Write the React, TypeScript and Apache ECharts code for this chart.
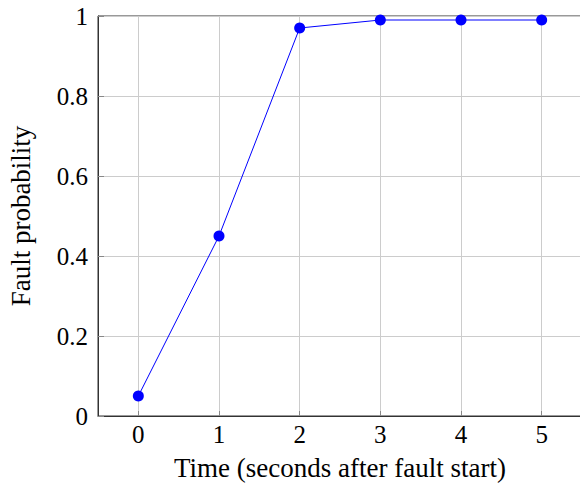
import React, { useEffect, useRef } from "react";
import * as echarts from "echarts";

const times = [0, 1, 2, 3, 4, 5];
const faultProb = [0.05, 0.45, 0.97, 0.99, 0.99, 0.99];
const xTicks = [0, 1, 2, 3, 4, 5];
const yTicks = [0, 0.2, 0.4, 0.6, 0.8, 1];
const xLabel = "Time (seconds after fault start)";
const yLabel = "Fault probability";

export default function App() {
  const ref = useRef<HTMLDivElement>(null);
  useEffect(() => {
    if (!ref.current) return;
    const chart = echarts.init(ref.current, null, { renderer: "svg" });
    const font = "'Liberation Serif', 'Times New Roman', serif";
    chart.setOption({
      animation: false,
      backgroundColor: "#ffffff",
      grid: {
        left: 98,
        right: -2,
        top: 16,
        bottom: 67,
        containLabel: false,
        outerBoundsMode: "none",
        show: true,
        borderColor: "#333333",
        borderWidth: 1,
      },
      xAxis: {
        type: "value",
        min: -0.5,
        max: 5.5,
        name: xLabel,
        nameLocation: "middle",
        nameGap: 38,
        nameTextStyle: { fontFamily: font, fontSize: 27, color: "#000" },
        axisLine: { show: true, onZero: false, lineStyle: { color: "#333333", width: 1 } },
        axisTick: { show: true, inside: true, length: 5, customValues: xTicks, lineStyle: { color: "#888" } },
        splitLine: { show: true, lineStyle: { color: "#cccccc", width: 1 } },
        axisLabel: {
          fontFamily: font,
          fontSize: 25,
          color: "#000",
          margin: 6,
          customValues: xTicks,
          formatter: (v: number) => String(v),
        },
      },
      yAxis: {
        type: "value",
        min: 0,
        max: 1,
        interval: 0.2,
        name: yLabel,
        nameLocation: "middle",
        nameGap: 64,
        nameTextStyle: { fontFamily: font, fontSize: 27, color: "#000" },
        axisLine: { show: true, onZero: false, lineStyle: { color: "#333333", width: 1 } },
        axisTick: { show: true, inside: true, length: 6, customValues: yTicks, lineStyle: { color: "#888" } },
        splitLine: { show: true, lineStyle: { color: "#cccccc", width: 1 } },
        axisLabel: {
          fontFamily: font,
          fontSize: 25,
          color: "#000",
          margin: 10,
          customValues: yTicks,
          formatter: (v: number) => String(Math.round(v * 10) / 10),
        },
      },
      series: [
        {
          type: "line",
          data: times.map((t, i) => [t, faultProb[i]]),
          symbol: "circle",
          symbolSize: 11,
          itemStyle: { color: "#0000ff" },
          lineStyle: { color: "#0000ff", width: 1 },
          clip: false,
        },
      ],
    });
    return () => chart.dispose();
  }, []);
  return (
    <div
      ref={ref}
      style={{ position: "fixed", left: 0, top: 0, width: 580, height: 483, background: "#fff" }}
    />
  );
}
